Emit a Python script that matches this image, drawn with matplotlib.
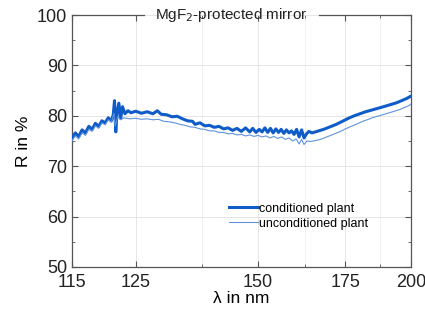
import numpy as np
import matplotlib
matplotlib.use('Agg')
import matplotlib.pyplot as plt
from matplotlib.ticker import FixedLocator, MultipleLocator

plt.rcParams['font.family'] = ['Liberation Sans', 'DejaVu Sans']

# reflectance of MgF2-protected mirror
lam_cond = [115.0, 115.5, 116.0, 116.5, 117.0, 117.5, 118.0, 118.5, 119.0, 119.5,
            120.0, 120.5, 121.0, 121.3, 121.5, 121.7, 121.9, 122.2, 122.5, 122.8,
            123.2, 123.7, 124.2, 125.0, 126.0, 127.0, 128.0, 128.8, 129.5, 130.5,
            131.5, 132.5, 133.5, 134.5, 135.5, 136.0, 137.0, 138.0, 139.0, 140.0,
            141.0, 142.0, 143.0, 144.0, 145.0, 146.0, 147.0, 148.0, 148.7, 149.5,
            150.3, 151.0, 151.7, 152.4, 153.1, 153.8, 154.5, 155.2, 155.9, 156.6,
            157.3, 158.0, 158.7, 159.4, 160.1, 160.8, 161.5, 162.2, 162.9, 163.6,
            164.5, 166.0, 168.0, 170.0, 172.0, 174.0, 176.0, 178.0, 180.0, 182.0,
            184.0, 186.0, 188.0, 190.0, 192.0, 194.0, 196.0, 198.0, 200.0]
r_cond = [75.4, 76.6, 75.9, 77.2, 76.6, 77.9, 77.3, 78.5, 77.9, 79.0,
          78.6, 79.6, 79.0, 80.2, 83.0, 76.8, 80.5, 82.5, 79.5, 81.8,
          80.4, 81.0, 80.6, 80.9, 80.5, 80.8, 80.4, 81.0, 80.3, 80.2,
          79.8, 79.9, 79.4, 79.0, 78.9, 78.3, 78.6, 78.0, 78.1, 77.7,
          77.9, 77.4, 77.6, 77.1, 77.5, 76.9, 77.6, 76.8, 77.5, 76.7,
          77.3, 76.8, 77.6, 76.7, 77.5, 76.6, 77.4, 76.7, 77.3, 76.5,
          77.2, 76.6, 77.0, 76.3, 77.3, 75.8, 77.2, 75.6, 76.4, 76.9,
          76.6, 76.9, 77.3, 77.8, 78.3, 78.9, 79.5, 80.0, 80.4, 80.8,
          81.1, 81.4, 81.7, 82.0, 82.3, 82.6, 83.0, 83.4, 83.9]

lam_unc = [115.0, 115.5, 116.0, 116.5, 117.0, 117.5, 118.0, 118.5, 119.0, 119.5,
           120.0, 120.5, 121.0, 121.4, 121.6, 122.0, 122.5, 123.0, 124.0, 125.0,
           126.0, 127.0, 128.0, 129.0, 130.0, 131.0, 132.0, 133.0, 134.0, 135.0,
           136.0, 137.0, 138.0, 139.0, 140.0, 141.0, 142.0, 143.0, 144.0, 145.0,
           146.0, 147.0, 148.0, 149.0, 150.0, 151.0, 152.0, 153.0, 154.0, 155.0,
           156.0, 157.0, 158.0, 159.0, 160.0, 160.8, 161.5, 162.2, 163.0, 164.0,
           165.0, 167.0, 169.0, 171.0, 173.0, 175.0, 177.0, 179.0, 181.0, 183.0,
           185.0, 187.0, 189.0, 191.0, 193.0, 195.0, 197.0, 199.0, 200.0]
r_unc = [75.0, 76.0, 75.4, 76.6, 76.1, 77.3, 76.9, 78.0, 77.5, 78.6,
         78.2, 79.2, 78.7, 80.5, 78.0, 79.8, 79.2, 79.6, 79.4, 79.5,
         79.3, 79.4, 79.2, 79.3, 78.9, 78.8, 78.6, 78.3, 78.1, 77.8,
         77.7, 77.4, 77.3, 77.0, 77.0, 76.7, 76.7, 76.4, 76.5, 76.2,
         76.3, 76.0, 76.2, 75.9, 76.1, 75.8, 76.0, 75.6, 75.9, 75.5,
         75.8, 75.3, 75.6, 75.0, 75.4, 74.4, 75.3, 74.3, 75.0, 74.9,
         75.0, 75.3, 75.8, 76.3, 76.8, 77.4, 77.9, 78.4, 78.9, 79.3,
         79.7, 80.0, 80.3, 80.6, 80.9, 81.2, 81.6, 82.0, 82.3]

xticks = [115, 125, 150, 175, 200]
xminor = [137.5, 162.5, 187.5]

fig = plt.figure(figsize=(4.25, 3.2), dpi=100)
ax = fig.add_axes([0.169, 0.166, 0.798, 0.787])

# wavelength axis is linear in photon energy (1/lambda)
ax.set_xscale('function', functions=(lambda x: -1.0 / x, lambda y: -1.0 / y))

ax.plot(lam_cond, r_cond, color='#0f5cc9', lw=2.2, label='conditioned plant', zorder=3)
ax.plot(lam_unc, r_unc, color='#5f93de', lw=0.8, label='unconditioned plant', zorder=4)

ax.set_xlim(115, 200)
ax.set_ylim(50, 100)
ax.xaxis.set_major_locator(FixedLocator(xticks))
ax.xaxis.set_minor_locator(FixedLocator(xminor))
ax.set_xticklabels([str(t) for t in xticks])
ax.yaxis.set_major_locator(MultipleLocator(10))
ax.yaxis.set_minor_locator(MultipleLocator(5))

ax.grid(which='major', color='#e2e2e2', lw=0.6)
ax.grid(which='minor', axis='x', color='#ececec', lw=0.5)
ax.set_axisbelow(True)

ax.tick_params(which='both', direction='in', top=True, right=True,
               color='#555555', labelsize=13, labelcolor='#222222')
ax.tick_params(which='major', length=4)
ax.tick_params(which='minor', length=2.5)
ax.tick_params(axis='x', pad=5)
for s in ax.spines.values():
    s.set_color('#555555')
    s.set_linewidth(0.9)

# title sits on the top frame line
ax.spines['top'].set_visible(False)
ax.plot([0, 0.212], [1, 1], transform=ax.transAxes, color='#555555', lw=0.9, clip_on=False)
ax.plot([0.728, 1], [1, 1], transform=ax.transAxes, color='#555555', lw=0.9, clip_on=False)
ax.text(0.47, 1.0, 'MgF$_2$-protected mirror', transform=ax.transAxes,
        ha='center', va='center', fontsize=11, color='#222222')

ax.set_xlabel('λ in nm', fontsize=12.5, labelpad=0)
ax.set_ylabel('R in %', fontsize=12.5, labelpad=4)

ax.legend(loc='upper left', bbox_to_anchor=(0.43, 0.30), frameon=False,
          fontsize=9, handlelength=2.3, handletextpad=0.1, labelspacing=0.25)

fig.savefig('out.png', dpi=100)
